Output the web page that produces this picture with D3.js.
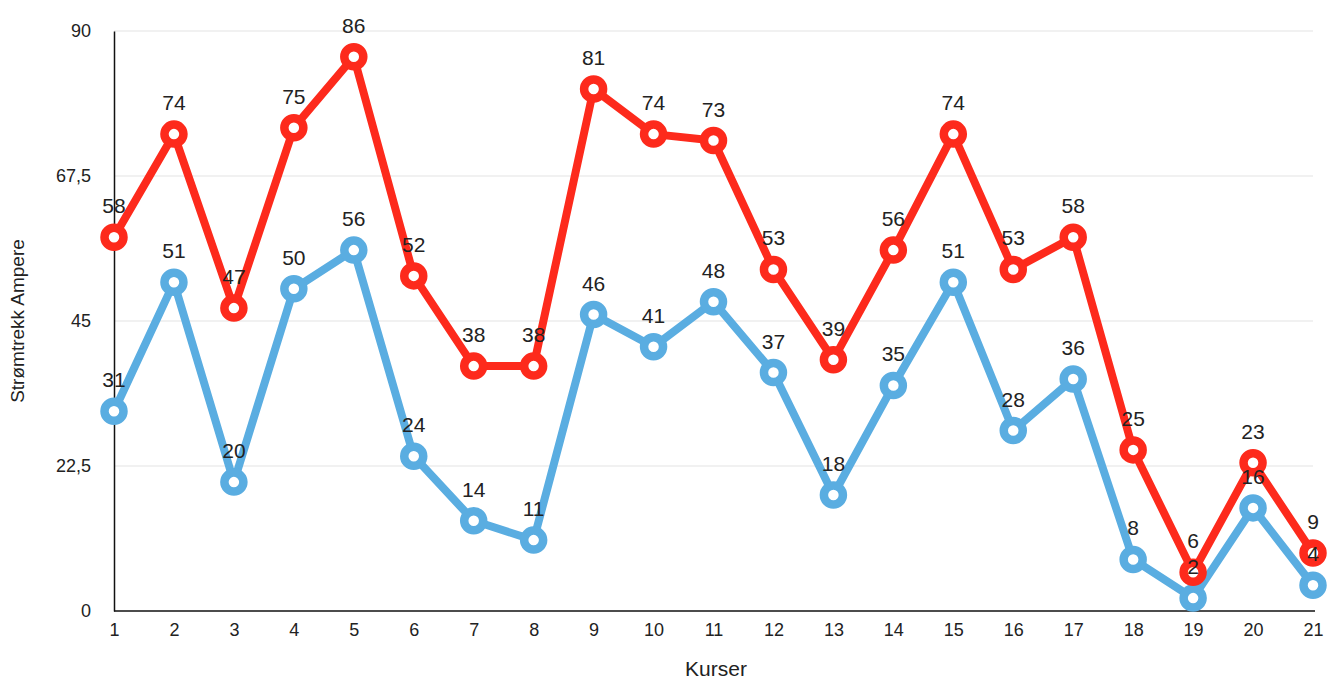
<!DOCTYPE html>
<meta charset="utf-8">
<script src="https://d3js.org/d3.v7.min.js"></script>
<style>
body { margin: 0; background: #fff; }
text { font-family: "Liberation Sans", Arial, sans-serif; fill: #222; }
</style>
<body>
<div id="chart"></div>
<script>
// data
var kurser = d3.range(1, 22).map(String);
var rodSerie = [58, 74, 47, 75, 86, 52, 38, 38, 81, 74, 73, 53, 39, 56, 74, 53, 58, 25, 6, 23, 9];
var blaSerie = [31, 51, 20, 50, 56, 24, 14, 11, 46, 41, 48, 37, 18, 35, 51, 28, 36, 8, 2, 16, 4];
var yTicks = [0, 22.5, 45, 67.5, 90];

var width = 1333, height = 682;
var margin = {top: 31, right: 20, bottom: 71, left: 114};

var svg = d3.select("#chart").append("svg")
  .attr("width", width)
  .attr("height", height);

var x = d3.scalePoint()
  .domain(kurser)
  .range([margin.left, 1313]);

var y = d3.scaleLinear()
  .domain([0, 90])
  .range([height - margin.bottom, margin.top]);

// gridlines
svg.append("g")
  .selectAll("line")
  .data(yTicks.filter(function(d) { return d > 0; }))
  .enter().append("line")
    .attr("x1", margin.left)
    .attr("x2", 1313)
    .attr("y1", function(d) { return y(d); })
    .attr("y2", function(d) { return y(d); })
    .style("stroke", "#e3e3e3")
    .style("stroke-width", 1);

// y axis
var yAxis = svg.append("g")
  .attr("transform", "translate(" + margin.left + ",0)")
  .call(d3.axisLeft(y).tickValues(yTicks).tickSize(0).tickPadding(23)
    .tickFormat(function(d) { return String(d).replace(".", ","); }));
yAxis.select(".domain").style("stroke", "#111").style("stroke-width", 1.5);
yAxis.selectAll("text").style("font-size", "18px").style("fill", "#222");

// x axis
var xAxis = svg.append("g")
  .attr("transform", "translate(0," + y(0) + ")")
  .call(d3.axisBottom(x).tickSize(0).tickPadding(12));
xAxis.select(".domain").attr("d", "M" + margin.left + ",0H1315").style("stroke", "#111").style("stroke-width", 1.5);
xAxis.selectAll("text").style("font-size", "18px").style("fill", "#222");

// axis titles
svg.append("text")
  .attr("transform", "translate(24," + ((margin.top + y(0)) / 2) + ") rotate(-90)")
  .attr("text-anchor", "middle")
  .style("font-size", "19px")
  .text("Strømtrekk Ampere");

svg.append("text")
  .attr("x", 716)
  .attr("y", 676)
  .attr("text-anchor", "middle")
  .style("font-size", "21px")
  .text("Kurser");

var series = [
  {values: blaSerie, color: "#5aade1"},
  {values: rodSerie, color: "#fd2a1c"}
];

var line = d3.line()
  .x(function(d, i) { return x(kurser[i]); })
  .y(function(d) { return y(d); });

series.forEach(function(s) {
  var g = svg.append("g");
  g.append("path")
    .attr("d", line(s.values))
    .style("fill", "none")
    .style("stroke", s.color)
    .style("stroke-width", 8)
    .style("stroke-linejoin", "round");
  g.selectAll("circle")
    .data(s.values)
    .enter().append("circle")
      .attr("cx", function(d, i) { return x(kurser[i]); })
      .attr("cy", function(d) { return y(d); })
      .attr("r", 9.5)
      .style("fill", "#fff")
      .style("stroke", s.color)
      .style("stroke-width", 8.5);
});

// value labels on top of everything
series.forEach(function(s) {
  svg.append("g").selectAll("text")
    .data(s.values)
    .enter().append("text")
      .attr("x", function(d, i) { return x(kurser[i]); })
      .attr("y", function(d) { return y(d) - 24; })
      .attr("text-anchor", "middle")
      .style("font-size", "21px")
      .text(function(d) { return d; });
});
</script>
</body>
